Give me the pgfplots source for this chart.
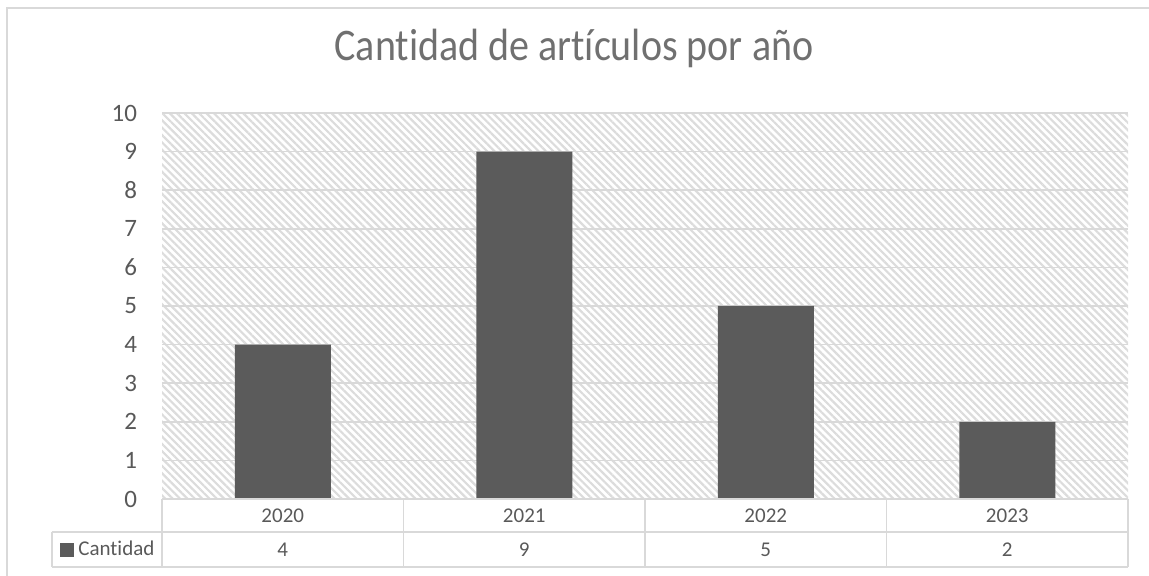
\documentclass[border=0pt]{standalone}
\usepackage{fontspec}
\setmainfont{Carlito}[Ligatures=NoCommon]
\usepackage{pgfplots}
\usepackage{pgfplotstable}
\pgfplotsset{compat=1.18}
\usetikzlibrary{patterns.meta}
\definecolor{txt}{HTML}{595959}
\definecolor{ttl}{HTML}{707070}
\definecolor{barc}{HTML}{5B5B5B}
\definecolor{gridc}{HTML}{D9D9D9}
\definecolor{hatch}{HTML}{DCDCDC}

\pgfplotstableread{
x year count
0 2020 4
1 2021 9
2 2022 5
3 2023 2
}\datatable

\begin{document}
\begin{tikzpicture}
\path[use as bounding box] (0,0) rectangle (574.5pt,288pt);
\draw[gridc, line width=1pt] (3.5pt,-20pt) -- (3.5pt,284pt) -- (620pt,284pt);
\begin{axis}[
  at={(81pt,38.5pt)}, anchor=south west,
  scale only axis, width=483pt, height=193pt,
  clip=false,
  xmin=-0.5, xmax=3.5, ymin=0, ymax=10,
  xtick=data,
  xticklabels from table={\datatable}{year},
  ytick={0,1,...,10},
  major tick length=0pt,
  axis line style={draw=none},
  ymajorgrids, grid style={gridc, line width=0.8pt},
  axis background/.style={pattern={Lines[angle=-45,distance=2.6pt,line width=1.1pt]}, pattern color=hatch},
  /pgf/number format/assume math mode=true,
  yticklabel style={font=\fontsize{12.5}{14}\selectfont, text=txt, xshift=-9pt},
  xticklabel style={font=\fontsize{10.5}{12}\selectfont, text=txt, anchor=center, yshift=-8.5pt},
  title={\scalebox{1}[1.13]{Cantidad de artículos por año}},
  title style={at={(axis description cs:0.4265,1.104)}, anchor=base, yshift=0pt, font=\fontsize{20}{24}\selectfont, text=ttl},
  legend style={at={(axis description cs:-0.1139,-0.1321)}, anchor=west, xshift=2pt, draw=none, fill=none,
     font=\fontsize{10.5}{12}\selectfont, text=txt, inner xsep=2pt},
  legend image code/.code={\fill[barc] (0pt,-3.5pt) rectangle (7pt,3.5pt);},
]
\addplot[ybar, bar width=48pt, fill=barc, draw=none] table[x=x, y=count]{\datatable};
\addlegendentry{Cantidad}
\addplot[forget plot, draw=none, mark=none, nodes near coords, point meta=explicit,
  every node near coord/.append style={anchor=center, font=\fontsize{10.5}{12}\selectfont, text=txt},
  nodes near coords={\pgfmathprintnumber[assume math mode=true]{\pgfplotspointmeta}}]
  table[x=x, y expr=-1.321, meta=count]{\datatable};
% data table grid
\draw[gridc, line width=0.8pt] (axis cs:-0.5,0) -- (axis cs:3.5,0);
\draw[gridc, line width=0.8pt] (axis cs:-0.9555,-0.855) -- (axis cs:3.5,-0.855);
\draw[gridc, line width=0.8pt] (axis cs:-0.9555,-1.762) -- (axis cs:3.5,-1.762);
\draw[gridc, line width=0.8pt] (axis cs:-0.9555,-0.855) -- (axis cs:-0.9555,-1.762);
\draw[gridc, line width=0.8pt] (axis cs:-0.5,0) -- (axis cs:-0.5,-1.762);
\draw[gridc, line width=0.8pt] (axis cs:0.5,0) -- (axis cs:0.5,-1.762);
\draw[gridc, line width=0.8pt] (axis cs:1.5,0) -- (axis cs:1.5,-1.762);
\draw[gridc, line width=0.8pt] (axis cs:2.5,0) -- (axis cs:2.5,-1.762);
\draw[gridc, line width=0.8pt] (axis cs:3.5,0) -- (axis cs:3.5,-1.762);
\end{axis}
\end{tikzpicture}
\end{document}
